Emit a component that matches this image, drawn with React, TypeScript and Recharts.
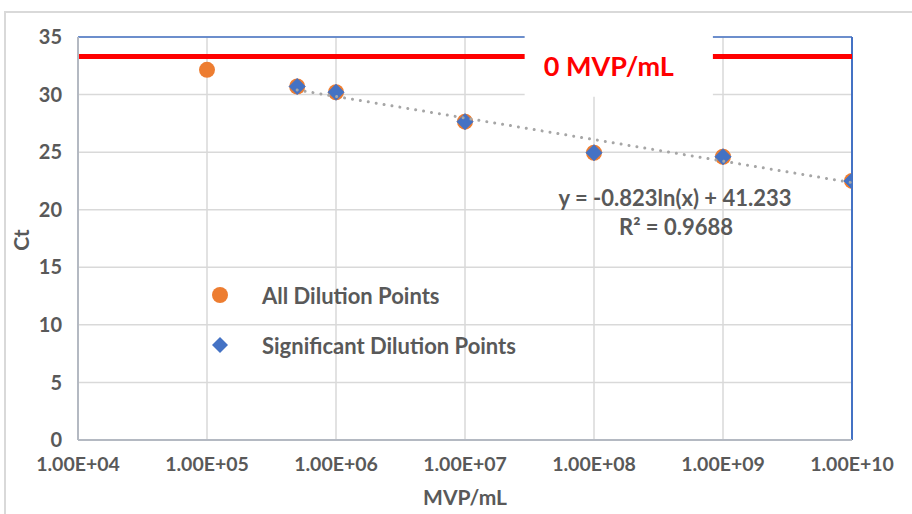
import {
  ScatterChart,
  Scatter,
  XAxis,
  YAxis,
  CartesianGrid,
  ReferenceLine,
  ReferenceArea,
  Label,
  Legend,
  Customized,
} from "recharts";

// dilution series (MVP/mL) and their Ct values
const dilutions = [1e5, 5e5, 1e6, 1e7, 1e8, 1e9, 1e10];
const allCt = [32.15, 30.7, 30.2, 27.65, 24.95, 24.6, 22.5];

const sigDilutions = [5e5, 1e6, 1e7, 1e8, 1e9, 1e10];
const sigCt = [30.7, 30.2, 27.65, 24.95, 24.6, 22.5];

// log trendline end points
const trendX = [5e5, 1e10];
const trendCt = [30.4, 22.35];

const negativeCt = 33.3;

const xTicks = [1e4, 1e5, 1e6, 1e7, 1e8, 1e9, 1e10];
const yTicks = [0, 5, 10, 15, 20, 25, 30, 35];

const allData = dilutions.map((x, i) => ({ x, y: allCt[i] }));
const sigData = sigDilutions.map((x, i) => ({ x, y: sigCt[i] }));
const trendData = trendX.map((x, i) => ({ x, y: trendCt[i] }));

const FONT = "Lato, 'Open Sans', sans-serif";
const GREY = "#595959";
const ORANGE = "#ED7D31";
const BLUE = "#4472C4";

const fmtExp = (v: number) => {
  const e = Math.round(Math.log10(v));
  return `1.00E+${String(e).padStart(2, "0")}`;
};

const OrangeDot = (p: any) => <circle cx={p.cx} cy={p.cy} r={8} fill={ORANGE} />;

const BlueDiamond = (p: any) => {
  const { cx, cy } = p;
  const s = 8;
  return (
    <path
      d={`M${cx},${cy - s}L${cx + s},${cy}L${cx},${cy + s}L${cx - s},${cy}Z`}
      fill={BLUE}
      stroke={BLUE}
      strokeLinejoin="round"
      strokeWidth={1}
    />
  );
};

const LegendBox = () => (
  <div style={{ fontFamily: FONT, fontWeight: 700, fontSize: 22, color: GREY }}>
    <div style={{ display: "flex", alignItems: "center", height: 50 }}>
      <svg width={52} height={20}>
        <circle cx={10} cy={10} r={8} fill={ORANGE} />
      </svg>
      <span>All Dilution Points</span>
    </div>
    <div style={{ display: "flex", alignItems: "center", height: 50 }}>
      <svg width={52} height={20}>
        <path d="M10,2L18,10L10,18L2,10Z" fill={BLUE} />
      </svg>
      <span>Significant Dilution Points</span>
    </div>
  </div>
);

const Texts = () => (
  <g fontFamily={FONT} fontWeight={700} fill={GREY}>
    <text x={675} y={206} fontSize={22} textAnchor="middle">
      y = -0.823ln(x) + 41.233
    </text>
    <text x={676} y={235} fontSize={22} textAnchor="middle">
      R² = 0.9688
    </text>
    <text x={465} y={505} fontSize={21} textAnchor="middle">
      MVP/mL
    </text>
    <text x={29} y={240} fontSize={21} textAnchor="middle" transform="rotate(-90 29 240)">
      Ct
    </text>
  </g>
);

export default function App() {
  return (
    <div style={{ position: "absolute", left: 0, top: 0, width: 912, height: 514 }}>
      <div
        style={{
          position: "absolute",
          left: 4,
          top: 11,
          width: 906,
          height: 501,
          borderLeft: "2px solid #d9d9d9",
          borderTop: "2px solid #d9d9d9",
        }}
      />
      <ScatterChart
        width={912}
        height={514}
        margin={{ top: 37, right: 60, bottom: 40, left: 28 }}
        style={{ position: "absolute", left: 0, top: 0 }}
      >
        <CartesianGrid stroke="#d9d9d9" strokeWidth={1.5} verticalValues={xTicks} horizontalValues={yTicks} />
        <XAxis
          dataKey="x"
          type="number"
          scale="log"
          domain={[1e4, 1e10]}
          ticks={xTicks}
          tickFormatter={fmtExp}
          allowDataOverflow
          height={34}
          tickLine={false}
          tickMargin={11}
          axisLine={{ stroke: "#b4b9c2", strokeWidth: 2 }}
          tick={{ fill: GREY, fontFamily: FONT, fontWeight: 700, fontSize: 19.5 }}
          interval={0}
        />
        <YAxis
          dataKey="y"
          type="number"
          domain={[0, 35]}
          ticks={yTicks}
          width={50}
          tickLine={false}
          tickMargin={10}
          axisLine={{ stroke: "#b4b9c2", strokeWidth: 2 }}
          tick={{ fill: GREY, fontFamily: FONT, fontWeight: 700, fontSize: 20 }}
          interval={0}
        />
        <ReferenceLine y={35} stroke={BLUE} strokeWidth={1.5} zIndex={300} />
        <ReferenceLine x={1e10} stroke={BLUE} strokeWidth={2} zIndex={300} />
        <ReferenceLine y={negativeCt} stroke="#FF0000" strokeWidth={5} zIndex={400} />
        <ReferenceArea
          x1={2.9e7}
          x2={8.35e8}
          y1={29.8}
          y2={35.1}
          fill="#ffffff"
          fillOpacity={1}
          stroke="none"
          ifOverflow="visible"
          zIndex={450}
        >
          <Label
            value="0 MVP/mL"
            position="center"
            dx={-10}
            fill="#FF0000"
            fontFamily={FONT}
            fontWeight={700}
            fontSize={27}
          />
        </ReferenceArea>
        <Scatter name="All Dilution Points" data={allData} shape={OrangeDot} isAnimationActive={false} />
        <Scatter name="Significant Dilution Points" data={sigData} shape={BlueDiamond} isAnimationActive={false} />
        <Scatter
          name="trend"
          data={trendData}
          legendType="none"
          shape={() => null}
          line={{ stroke: "#a6a6a6", strokeWidth: 3, strokeDasharray: "0.01 8", strokeLinecap: "round" }}
          isAnimationActive={false}
          zIndex={700}
        />
        <Legend
          layout="vertical"
          align="center"
          verticalAlign="middle"
          content={LegendBox}
          wrapperStyle={{ position: "absolute", left: 210, top: 270, width: 360 }}
        />
        <Customized component={<Texts />} />
      </ScatterChart>
    </div>
  );
}
